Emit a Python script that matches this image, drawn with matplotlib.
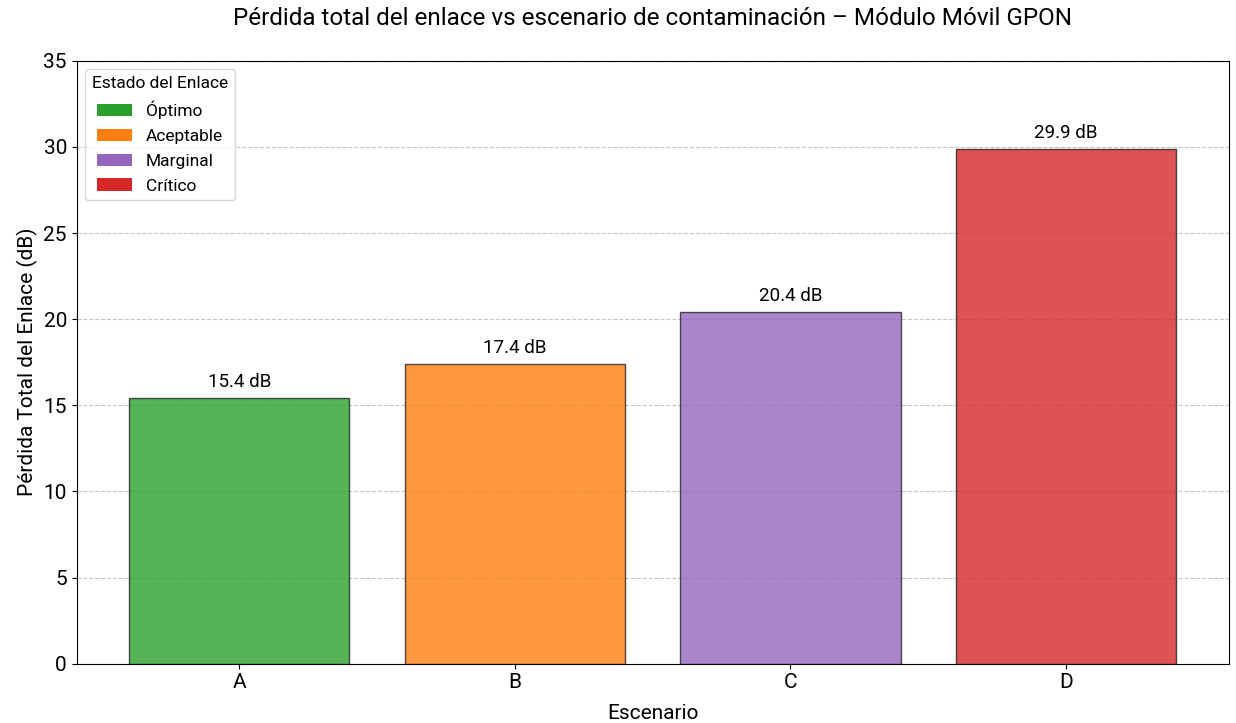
import matplotlib
matplotlib.use("Agg")
import matplotlib.pyplot as plt
from matplotlib.patches import Patch

plt.rcParams['font.family'] = ['Roboto', 'DejaVu Sans']

escenarios = ['A', 'B', 'C', 'D']
perdida_db = [15.4, 17.4, 20.4, 29.9]
estados = ['Óptimo', 'Aceptable', 'Marginal', 'Crítico']
colores = ['#2ca02c', '#ff7f0e', '#9467bd', '#d62728']

fig, ax = plt.subplots(figsize=(12.36, 7.23), dpi=100)
fig.subplots_adjust(left=0.062, right=0.994, top=0.916, bottom=0.082)

bars = ax.bar(escenarios, perdida_db, color=colores, alpha=0.8,
              edgecolor='#222222', linewidth=1.0, zorder=3)

for b, v in zip(bars, perdida_db):
    ax.annotate(f'{v:.1f} dB', (b.get_x() + b.get_width() / 2, v),
                xytext=(0, 5), textcoords='offset points',
                ha='center', va='bottom', fontsize=13.5)

ax.set_ylim(0, 35)
ax.yaxis.grid(True, linestyle='--', alpha=0.7, zorder=0)
ax.set_axisbelow(True)
ax.tick_params(labelsize=15)

ax.set_xlabel('Escenario', fontsize=15, labelpad=8)
ax.set_ylabel('Pérdida Total del Enlace (dB)', fontsize=15)
ax.set_title('Pérdida total del enlace vs escenario de contaminación – Módulo Móvil GPON',
             fontsize=17.5, pad=26)

handles = [Patch(facecolor=c, label=e) for c, e in zip(colores, estados)]
ax.legend(handles=handles, title='Estado del Enlace', loc='upper left',
          fontsize=12.5, title_fontsize=12.5, labelspacing=0.55)

fig.savefig('out.png', dpi=100)
